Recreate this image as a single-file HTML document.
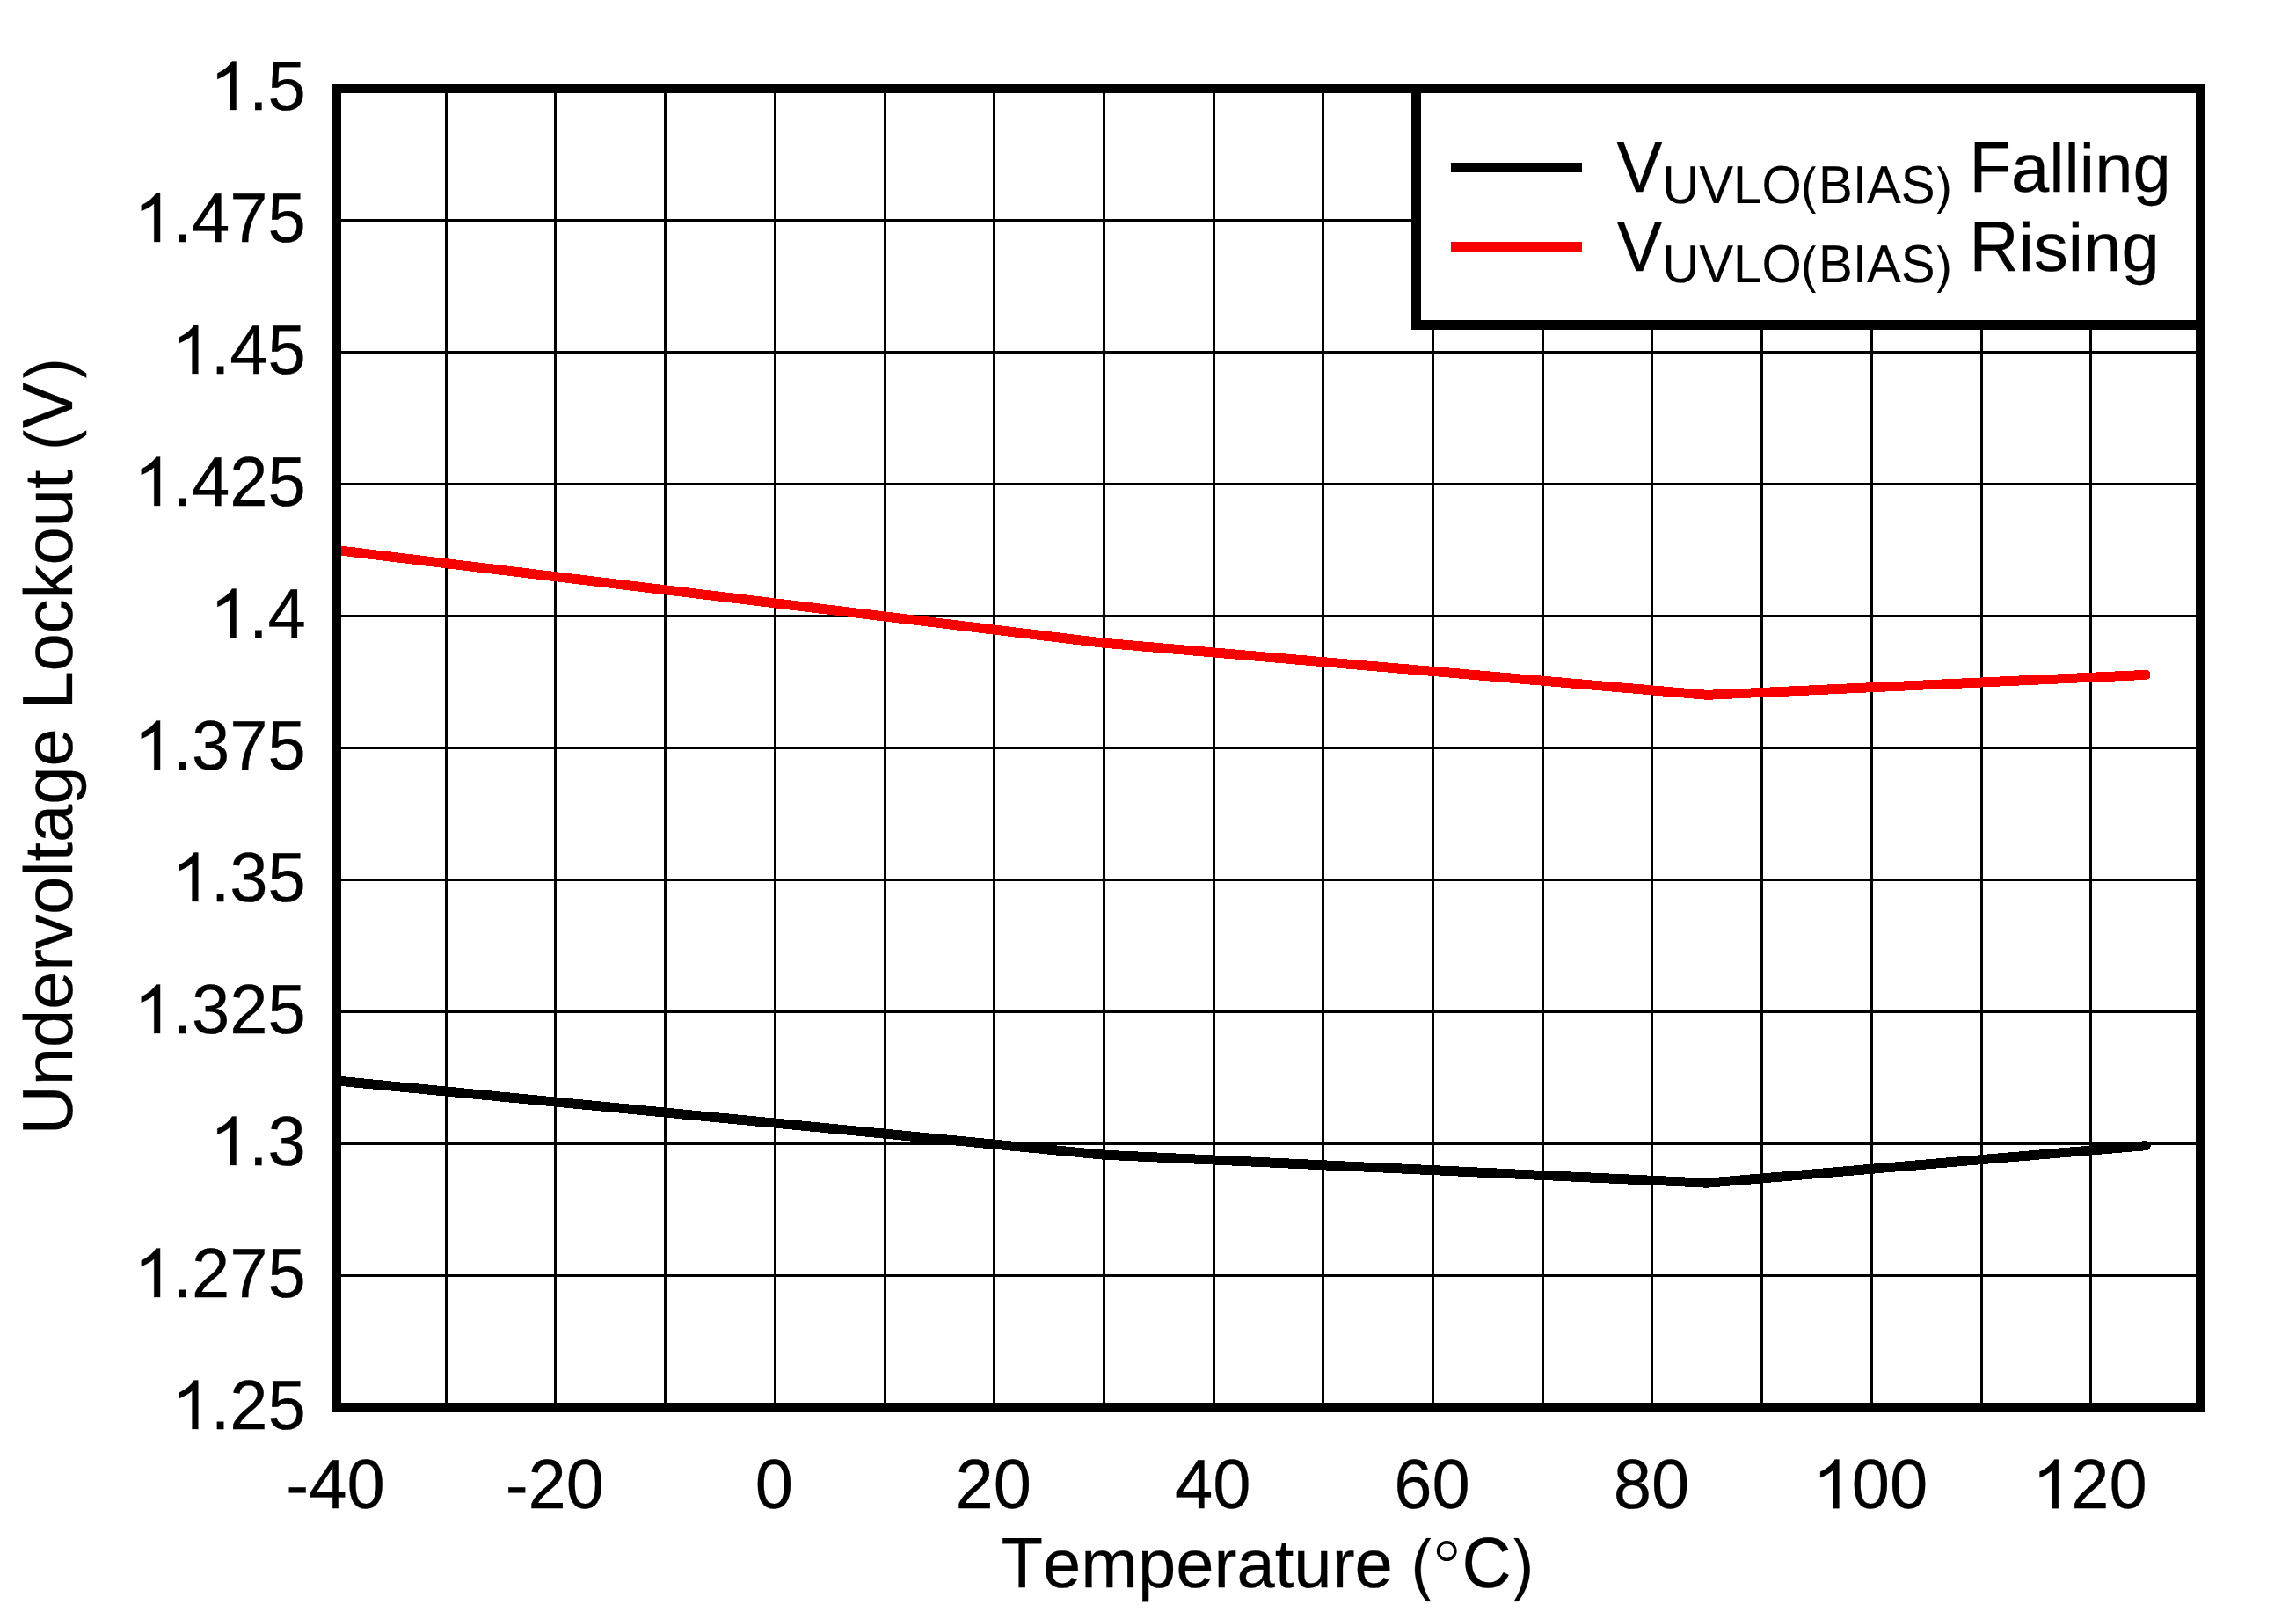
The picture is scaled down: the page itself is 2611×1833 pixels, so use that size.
<!DOCTYPE html>
<html><head><meta charset="utf-8"><title>Undervoltage Lockout vs Temperature</title><style>
html,body{margin:0;padding:0;background:#fff;}
svg{display:block;}
text{font-family:"Liberation Sans",sans-serif;fill:#000;font-kerning:none;white-space:pre;stroke:#000;stroke-width:0.25px;text-rendering:geometricPrecision;}
text.sub{stroke-width:0.1px;}
.g1{fill:#000;stroke:#000;}
</style></head><body>
<svg width="2611" height="1833" viewBox="0 0 2611 1833">
<rect x="0" y="0" width="2611" height="1833" fill="#fff"/>
<path d="M507.5 100.5V1600.5 M631.5 100.5V1600.5 M756.5 100.5V1600.5 M881.5 100.5V1600.5 M1006.5 100.5V1600.5 M1130.5 100.5V1600.5 M1255.5 100.5V1600.5 M1380.5 100.5V1600.5 M1504.5 100.5V1600.5 M1629.5 100.5V1600.5 M1754.5 100.5V1600.5 M1878.5 100.5V1600.5 M2003.5 100.5V1600.5 M2128.5 100.5V1600.5 M2253.5 100.5V1600.5 M2377.5 100.5V1600.5 M382.5 250.5H2502.5 M382.5 400.5H2502.5 M382.5 550.5H2502.5 M382.5 700.5H2502.5 M382.5 850.5H2502.5 M382.5 1000.5H2502.5 M382.5 1150.5H2502.5 M382.5 1300.5H2502.5 M382.5 1450.5H2502.5" stroke="#000" stroke-width="3" fill="none"/>
<polyline points="382.50,625.50 1255.44,731.20 1941.32,790.30 2440.15,767.40" stroke="#F80000" stroke-width="11" fill="none" stroke-linecap="round" stroke-linejoin="round" shape-rendering="crispEdges"/>
<polyline points="382.50,1229.00 1255.44,1313.20 1941.32,1345.20 2440.15,1302.70" stroke="#000" stroke-width="11" fill="none" stroke-linecap="round" stroke-linejoin="round" shape-rendering="crispEdges"/>
<rect x="382.5" y="100.5" width="2120.0" height="1500.0" fill="none" stroke="#000" stroke-width="11"/>
<rect x="1610.5" y="100.5" width="892.0" height="269.0" fill="#fff" stroke="#000" stroke-width="11"/>
<path d="M1650 190.5H1799" stroke="#000" stroke-width="11"/>
<path d="M1650 280.5H1799" stroke="#F80000" stroke-width="11"/>
<text transform="translate(1838.40,218.00) scale(1,1.045)" font-size="77.8">V</text>
<text class="sub" transform="translate(1890.20,231.00) scale(1,1.045)" font-size="58.2">UVLO</text>
<path class="g1" stroke-width="3.5" d="M440 1471C250 1230 95 900 95 525C95 150 250 -180 440 -421L569 -421C400 -160 268 170 268 525C268 880 400 1210 569 1471Z" transform="translate(2048.69,231.00) scale(0.02842,-0.02842)"/>
<text class="sub" transform="translate(2068.07,231.00) scale(1,1.045)" font-size="58.2">BIAS</text>
<path class="g1" stroke-width="3.5" d="M208 1471C398 1230 553 900 553 525C553 150 398 -180 208 -421L79 -421C248 -160 380 170 380 525C380 880 248 1210 79 1471Z" transform="translate(2200.69,231.00) scale(0.02842,-0.02842)"/>
<text transform="translate(2239.50,218.00) scale(1,1.045)" font-size="77.8">F</text>
<text x="2287.02" y="218.00" font-size="77.8">alling</text>
<text transform="translate(1838.40,308.00) scale(1,1.045)" font-size="77.8">V</text>
<text class="sub" transform="translate(1890.20,321.00) scale(1,1.045)" font-size="58.2">UVLO</text>
<path class="g1" stroke-width="3.5" d="M440 1471C250 1230 95 900 95 525C95 150 250 -180 440 -421L569 -421C400 -160 268 170 268 525C268 880 400 1210 569 1471Z" transform="translate(2048.69,321.00) scale(0.02842,-0.02842)"/>
<text class="sub" transform="translate(2068.07,321.00) scale(1,1.045)" font-size="58.2">BIAS</text>
<path class="g1" stroke-width="3.5" d="M208 1471C398 1230 553 900 553 525C553 150 398 -180 208 -421L79 -421C248 -160 380 170 380 525C380 880 248 1210 79 1471Z" transform="translate(2200.69,321.00) scale(0.02842,-0.02842)"/>
<text transform="translate(2239.50,308.00) scale(1,1.045)" font-size="77.8">R</text>
<text x="2295.68" y="308.00" font-size="77.8">ising</text>
<path class="g1" stroke-width="6.6" d="M763 0L583 0L583 1147Q518 1085 405 1020Q292 955 200 922L200 1098Q360 1172 476 1271Q592 1370 639 1466L763 1466Z" transform="translate(239.65,125.10) scale(0.03799,-0.03799)"/>
<text x="282.92" y="125.10" font-size="77.8">.</text>
<text transform="translate(304.53,125.10) scale(1,1.024)" font-size="77.8">5</text>
<path class="g1" stroke-width="6.6" d="M763 0L583 0L583 1147Q518 1085 405 1020Q292 955 200 922L200 1098Q360 1172 476 1271Q592 1370 639 1466L763 1466Z" transform="translate(153.11,275.10) scale(0.03799,-0.03799)"/>
<text x="196.38" y="275.10" font-size="77.8">.</text>
<text transform="translate(217.99,275.10) scale(1,1.024)" font-size="77.8">475</text>
<path class="g1" stroke-width="6.6" d="M763 0L583 0L583 1147Q518 1085 405 1020Q292 955 200 922L200 1098Q360 1172 476 1271Q592 1370 639 1466L763 1466Z" transform="translate(196.38,425.10) scale(0.03799,-0.03799)"/>
<text x="239.65" y="425.10" font-size="77.8">.</text>
<text transform="translate(261.26,425.10) scale(1,1.024)" font-size="77.8">45</text>
<path class="g1" stroke-width="6.6" d="M763 0L583 0L583 1147Q518 1085 405 1020Q292 955 200 922L200 1098Q360 1172 476 1271Q592 1370 639 1466L763 1466Z" transform="translate(153.11,575.10) scale(0.03799,-0.03799)"/>
<text x="196.38" y="575.10" font-size="77.8">.</text>
<text transform="translate(217.99,575.10) scale(1,1.024)" font-size="77.8">425</text>
<path class="g1" stroke-width="6.6" d="M763 0L583 0L583 1147Q518 1085 405 1020Q292 955 200 922L200 1098Q360 1172 476 1271Q592 1370 639 1466L763 1466Z" transform="translate(239.65,725.10) scale(0.03799,-0.03799)"/>
<text x="282.92" y="725.10" font-size="77.8">.</text>
<text transform="translate(304.53,725.10) scale(1,1.024)" font-size="77.8">4</text>
<path class="g1" stroke-width="6.6" d="M763 0L583 0L583 1147Q518 1085 405 1020Q292 955 200 922L200 1098Q360 1172 476 1271Q592 1370 639 1466L763 1466Z" transform="translate(153.11,875.10) scale(0.03799,-0.03799)"/>
<text x="196.38" y="875.10" font-size="77.8">.</text>
<text transform="translate(217.99,875.10) scale(1,1.024)" font-size="77.8">375</text>
<path class="g1" stroke-width="6.6" d="M763 0L583 0L583 1147Q518 1085 405 1020Q292 955 200 922L200 1098Q360 1172 476 1271Q592 1370 639 1466L763 1466Z" transform="translate(196.38,1025.10) scale(0.03799,-0.03799)"/>
<text x="239.65" y="1025.10" font-size="77.8">.</text>
<text transform="translate(261.26,1025.10) scale(1,1.024)" font-size="77.8">35</text>
<path class="g1" stroke-width="6.6" d="M763 0L583 0L583 1147Q518 1085 405 1020Q292 955 200 922L200 1098Q360 1172 476 1271Q592 1370 639 1466L763 1466Z" transform="translate(153.11,1175.10) scale(0.03799,-0.03799)"/>
<text x="196.38" y="1175.10" font-size="77.8">.</text>
<text transform="translate(217.99,1175.10) scale(1,1.024)" font-size="77.8">325</text>
<path class="g1" stroke-width="6.6" d="M763 0L583 0L583 1147Q518 1085 405 1020Q292 955 200 922L200 1098Q360 1172 476 1271Q592 1370 639 1466L763 1466Z" transform="translate(239.65,1325.10) scale(0.03799,-0.03799)"/>
<text x="282.92" y="1325.10" font-size="77.8">.</text>
<text transform="translate(304.53,1325.10) scale(1,1.024)" font-size="77.8">3</text>
<path class="g1" stroke-width="6.6" d="M763 0L583 0L583 1147Q518 1085 405 1020Q292 955 200 922L200 1098Q360 1172 476 1271Q592 1370 639 1466L763 1466Z" transform="translate(153.11,1475.10) scale(0.03799,-0.03799)"/>
<text x="196.38" y="1475.10" font-size="77.8">.</text>
<text transform="translate(217.99,1475.10) scale(1,1.024)" font-size="77.8">275</text>
<path class="g1" stroke-width="6.6" d="M763 0L583 0L583 1147Q518 1085 405 1020Q292 955 200 922L200 1098Q360 1172 476 1271Q592 1370 639 1466L763 1466Z" transform="translate(196.38,1625.10) scale(0.03799,-0.03799)"/>
<text x="239.65" y="1625.10" font-size="77.8">.</text>
<text transform="translate(261.26,1625.10) scale(1,1.024)" font-size="77.8">25</text>
<text x="325.28" y="1715.30" font-size="77.8">-</text>
<text transform="translate(351.19,1715.30) scale(1,1.024)" font-size="77.8">40</text>
<text x="574.69" y="1715.30" font-size="77.8">-</text>
<text transform="translate(600.60,1715.30) scale(1,1.024)" font-size="77.8">20</text>
<text transform="translate(858.69,1715.30) scale(1,1.024)" font-size="77.8">0</text>
<text transform="translate(1086.47,1715.30) scale(1,1.024)" font-size="77.8">20</text>
<text transform="translate(1335.88,1715.30) scale(1,1.024)" font-size="77.8">40</text>
<text transform="translate(1585.29,1715.30) scale(1,1.024)" font-size="77.8">60</text>
<text transform="translate(1834.70,1715.30) scale(1,1.024)" font-size="77.8">80</text>
<path class="g1" stroke-width="6.6" d="M763 0L583 0L583 1147Q518 1085 405 1020Q292 955 200 922L200 1098Q360 1172 476 1271Q592 1370 639 1466L763 1466Z" transform="translate(2062.48,1715.30) scale(0.03799,-0.03799)"/>
<text transform="translate(2105.75,1715.30) scale(1,1.024)" font-size="77.8">00</text>
<path class="g1" stroke-width="6.6" d="M763 0L583 0L583 1147Q518 1085 405 1020Q292 955 200 922L200 1098Q360 1172 476 1271Q592 1370 639 1466L763 1466Z" transform="translate(2311.89,1715.30) scale(0.03799,-0.03799)"/>
<text transform="translate(2355.16,1715.30) scale(1,1.024)" font-size="77.8">20</text>
<text transform="translate(1138.45,1805.00) scale(1,1.045)" font-size="77.8">T</text>
<text x="1185.97" y="1805.00" font-size="77.8">emperature </text>
<path class="g1" stroke-width="6.6" d="M440 1471C250 1230 95 900 95 525C95 150 250 -180 440 -421L569 -421C400 -160 268 170 268 525C268 880 400 1210 569 1471Z" transform="translate(1605.44,1805.00) scale(0.03799,-0.03799)"/>
<circle cx="1645.25" cy="1763.55" r="9.78" fill="none" stroke="#000" stroke-width="3.30"/>
<text transform="translate(1662.46,1805.00) scale(1,1.045)" font-size="77.8">C</text>
<path class="g1" stroke-width="6.6" d="M208 1471C398 1230 553 900 553 525C553 150 398 -180 208 -421L79 -421C248 -160 380 170 380 525C380 880 248 1210 79 1471Z" transform="translate(1718.64,1805.00) scale(0.03799,-0.03799)"/>
<g transform="translate(82.2,1290.37) rotate(-90)">
<text transform="translate(0.00,0.00) scale(1,1.045)" font-size="77.7">U</text>
<text x="56.11" y="0.00" font-size="77.7">ndervoltage </text>
<text transform="translate(483.77,0.00) scale(1,1.045)" font-size="77.7">L</text>
<text x="526.98" y="0.00" font-size="77.7">ockout </text>
<path class="g1" stroke-width="6.6" d="M440 1471C250 1230 95 900 95 525C95 150 250 -180 440 -421L569 -421C400 -160 268 170 268 525C268 880 400 1210 569 1471Z" transform="translate(779.19,0.00) scale(0.03794,-0.03794)"/>
<text transform="translate(803.37,0.00) scale(1,1.045)" font-size="77.7">V</text>
<path class="g1" stroke-width="6.6" d="M208 1471C398 1230 553 900 553 525C553 150 398 -180 208 -421L79 -421C248 -160 380 170 380 525C380 880 248 1210 79 1471Z" transform="translate(857.69,0.00) scale(0.03794,-0.03794)"/>
</g>
</svg>
</body></html>
